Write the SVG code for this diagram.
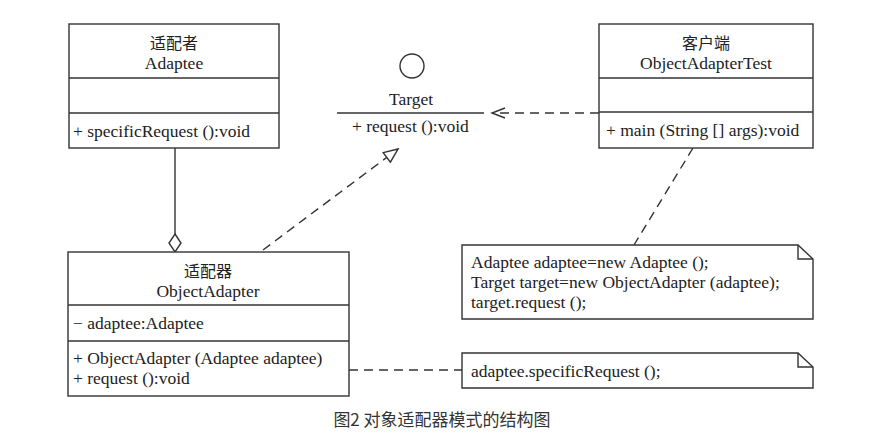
<svg xmlns="http://www.w3.org/2000/svg" width="894" height="445" viewBox="0 0 894 445">
<style>
.box{fill:#fff;stroke:#333;stroke-width:1.4}
.ln{fill:none;stroke:#333;stroke-width:1.4}
.dash{fill:none;stroke:#333;stroke-width:1.4;stroke-dasharray:9 6}
.t{font-family:"Liberation Serif","Noto Sans CJK SC",serif;font-size:17.5px;fill:#222}
.cn{font-family:"Noto Sans CJK SC",sans-serif;font-size:16px;fill:#222}
.c{text-anchor:middle}
.cap{font-family:"Noto Sans CJK SC","Liberation Sans",sans-serif;font-size:17px;fill:#333;text-anchor:middle}
</style>
<defs>
<marker id="open" markerWidth="16" markerHeight="12" refX="14" refY="6" orient="auto" markerUnits="userSpaceOnUse">
<path d="M1,1 L14,6 L1,11" fill="none" stroke="#333" stroke-width="1.4"/>
</marker>
<marker id="tri" markerWidth="18" markerHeight="16" refX="16" refY="8" orient="auto" markerUnits="userSpaceOnUse">
<path d="M16,8 L2,2 L2,14 Z" fill="#fff" stroke="#333" stroke-width="1.4"/>
</marker>
</defs>
<rect width="894" height="445" fill="#fff"/>
<g id="connectors">
<line class="ln" x1="175" y1="148" x2="175" y2="234"/>
<path class="box" d="M175,234 L181,243 L175,252 L169,243 Z"/>
<line class="dash" x1="263" y1="250" x2="398" y2="149" marker-end="url(#tri)"/>
<line class="dash" x1="599" y1="113" x2="492" y2="113" marker-end="url(#open)"/>
<line class="dash" x1="693" y1="148" x2="634" y2="245"/>
<line class="dash" x1="349" y1="370" x2="462" y2="370"/>
</g>
<g id="adaptee">
<rect class="box" x="69" y="24" width="210" height="124"/>
<line class="ln" x1="69" y1="78" x2="279" y2="78"/>
<line class="ln" x1="69" y1="113" x2="279" y2="113"/>
<text class="cn c" x="174" y="49">适配者</text>
<text class="t c" x="174" y="69">Adaptee</text>
<text class="t" x="73" y="137">+ specificRequest ():void</text>
</g>
<g id="target">
<circle class="box" cx="412" cy="66" r="12"/>
<text class="t c" x="411" y="105">Target</text>
<line class="ln" x1="337" y1="113" x2="484" y2="113"/>
<text class="t" x="352" y="132">+ request ():void</text>
</g>
<g id="client">
<rect class="box" x="599" y="24" width="214" height="124"/>
<line class="ln" x1="599" y1="78" x2="813" y2="78"/>
<line class="ln" x1="599" y1="112" x2="813" y2="112"/>
<text class="cn c" x="706" y="49">客户端</text>
<text class="t c" x="706" y="69">ObjectAdapterTest</text>
<text class="t" x="606" y="136">+ main (String [] args):void</text>
</g>
<g id="objectAdapter">
<rect class="box" x="68" y="252" width="281" height="144"/>
<line class="ln" x1="68" y1="305" x2="349" y2="305"/>
<line class="ln" x1="68" y1="341" x2="349" y2="341"/>
<text class="cn c" x="208" y="277">适配器</text>
<text class="t c" x="208" y="297">ObjectAdapter</text>
<text class="t" x="73" y="329">− adaptee:Adaptee</text>
<text class="t" x="73" y="364">+ ObjectAdapter (Adaptee adaptee)</text>
<text class="t" x="73" y="384">+ request ():void</text>
</g>
<g id="note1">
<path class="box" d="M462,245 L798,245 L813,259 L813,319 L462,319 Z"/>
<path class="ln" d="M798,245 L798,259 L813,259"/>
<text class="t" x="471" y="268">Adaptee adaptee=new Adaptee ();</text>
<text class="t" x="471" y="288">Target target=new ObjectAdapter (adaptee);</text>
<text class="t" x="471" y="308">target.request ();</text>
</g>
<g id="note2">
<path class="box" d="M462,353 L798,353 L813,367 L813,388 L462,388 Z"/>
<path class="ln" d="M798,353 L798,367 L813,367"/>
<text class="t" x="471" y="377">adaptee.specificRequest ();</text>
</g>
<text class="cap" x="442" y="426">图2 对象适配器模式的结构图</text>
</svg>
